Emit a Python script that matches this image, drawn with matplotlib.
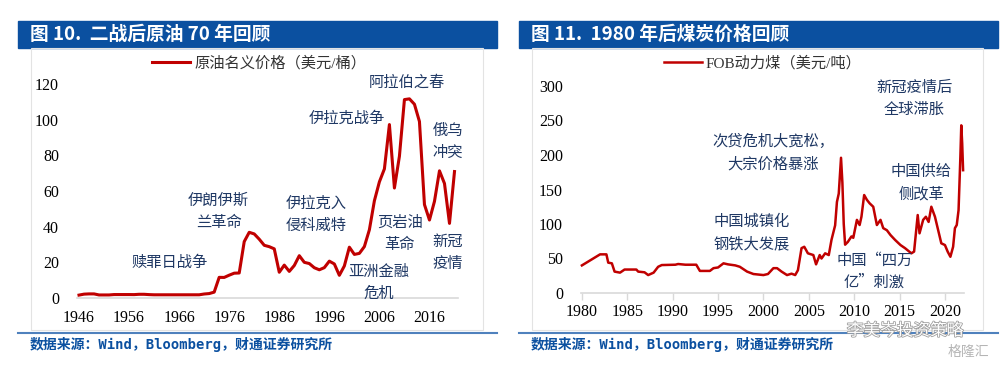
import matplotlib
matplotlib.use('Agg')
import matplotlib.pyplot as plt
import matplotlib.patches as patches
import matplotlib.patheffects as pe

plt.rcParams['font.family'] = ['Liberation Serif', 'Noto Sans CJK SC']

# 原油名义价格（美元/桶）
oil_years = list(range(1946, 2022))
oil_price = [1.63, 2.16, 2.30, 2.30, 1.71, 1.71, 1.71, 1.93, 1.93, 1.93,
             1.93, 1.90, 2.08, 2.08, 1.90, 1.80, 1.80, 1.80, 1.80, 1.80,
             1.80, 1.80, 1.80, 1.80, 1.80, 2.24, 2.48, 3.29, 11.58, 11.53,
             12.80, 13.92, 14.02, 31.61, 36.83, 35.93, 32.97, 29.55, 28.78, 27.56,
             14.43, 18.44, 14.92, 18.23, 23.73, 20.00, 19.32, 16.97, 15.82, 17.02,
             20.67, 19.09, 12.72, 17.97, 28.50, 24.44, 25.02, 28.83, 38.27, 54.52,
             65.14, 72.39, 97.26, 61.67, 79.50, 111.26, 111.67, 108.66, 98.95, 52.39,
             43.73, 54.19, 71.31, 64.21, 41.84, 70.91]
oil_ticks = [1946, 1956, 1966, 1976, 1986, 1996, 2006, 2016]

# FOB动力煤（美元/吨）
coal_year = [1980.0, 1982.0, 1982.7, 1982.9, 1983.3, 1983.6, 1984.2, 1984.7, 1986.0, 1986.2,
             1986.9, 1987.3, 1987.9, 1988.4, 1988.8, 1990.3, 1990.6, 1991.4, 1992.6, 1993.0,
             1994.1, 1994.5, 1995.0, 1995.6, 1996.1, 1996.9, 1997.4, 1998.2, 1998.9, 2000.0,
             2000.5, 2001.1, 2001.5, 2002.0, 2002.6, 2003.1, 2003.5, 2003.8, 2004.2, 2004.5,
             2004.9, 2005.5, 2005.8, 2006.2, 2006.4, 2006.8, 2007.2, 2007.5, 2007.9, 2008.1,
             2008.3, 2008.55, 2008.7, 2008.85, 2009.0, 2009.3, 2009.7, 2009.9, 2010.3, 2010.6,
             2010.8, 2011.1, 2011.4, 2011.7, 2012.1, 2012.5, 2012.9, 2013.2, 2013.6, 2014.0,
             2014.5, 2015.1, 2015.6, 2016.3, 2016.6, 2017.0, 2017.2, 2017.6, 2017.9, 2018.2,
             2018.5, 2018.9, 2019.2, 2019.6, 2020.0, 2020.3, 2020.6, 2020.9, 2021.1, 2021.3,
             2021.5, 2021.7, 2021.8, 2021.9, 2022.0]
coal_price = [40, 56, 56, 44, 43, 31, 29.5, 34, 34, 31,
              30, 26, 29.5, 38, 40.5, 41, 42, 41, 41, 32,
              32, 36, 37, 43, 41.5, 40, 38, 31, 27.5, 26,
              27.5, 36, 36, 31, 26, 28, 26, 33, 65, 67,
              57.5, 55, 41.5, 55, 50, 57.5, 55, 77, 98, 132,
              144, 196, 160, 100, 70, 74, 82, 80, 106, 98.5,
              110.5, 142, 135, 130, 125, 98.5, 106, 94, 91, 84,
              77, 69.5, 65, 57.5, 60, 113, 86.5, 106, 110.5, 103,
              125, 110.5, 94, 72, 69.5, 60, 52.5, 67, 94, 98.5,
              120, 197, 243, 217, 178]
coal_ticks = [1980, 1985, 1990, 1995, 2000, 2005, 2010, 2015, 2020]

oil_notes = [('赎罪日战争', 1964.0, 20.2),
             ('伊朗伊斯\n兰革命', 1973.9, 48.7),
             ('伊拉克入\n侵科威特', 1993.3, 47),
             ('亚洲金融\n危机', 2005.9, 8.7),
             ('页岩油\n革命', 2010.1, 36.4),
             ('伊拉克战争', 1999.5, 100.8),
             ('阿拉伯之春', 2011.5, 121),
             ('俄乌\n冲突', 2019.7, 87.7),
             ('新冠\n疫情', 2019.7, 25.8)]
coal_notes = [('次贷危机大宽松，\n大宗价格暴涨', 2001.06, 203.6),
              ('中国城镇化\n钢铁大发展', 1998.7, 87.7),
              ('中国“四万\n亿”刺激', 2012.2, 31.9),
              ('中国供给\n侧改革', 2017.4, 160),
              ('新冠疫情后\n全球滞胀', 2016.6, 282)]

RED = '#C00000'
NAVY = '#1F3864'
BLUE = '#0B50A0'
W, H = 1002, 365

fig = plt.figure(figsize=(W / 100, H / 100), dpi=100)


def fx(px):
    return px / W


def fy(py):
    return 1 - py / H


def panel(x0, x1, fx0, fx1, title):
    # title bar
    fig.patches.append(patches.Rectangle((fx(x0), fy(48)), fx(x1 - x0), 27 / H,
                                         transform=fig.transFigure, color=BLUE, zorder=0))
    fig.text(fx(x0 + 12), fy(34), title, color='white', fontsize=13.5, fontweight='bold',
             va='center', ha='left', family=['Noto Sans CJK SC'])
    # light frame
    fig.patches.append(patches.Rectangle((fx(fx0), fy(330)), fx(fx1 - fx0), 282 / H,
                                         transform=fig.transFigure, fill=False,
                                         edgecolor='#E3E3E3', lw=0.8, zorder=0))
    # bottom rule + source
    fig.add_artist(plt.Line2D([fx(x0), fx(x1)], [fy(333), fy(333)], color='#4F81BD', lw=1.5))
    fig.text(fx(x0 + 12), fy(344), '数据来源：Wind，Bloomberg，财通证券研究所', color=BLUE,
             fontsize=10, fontweight='bold', va='center', ha='left',
             family=['DejaVu Sans Mono', 'Noto Sans CJK SC'])


def style_axes(ax, ticks, xtick_len, xpad):
    for s in ['top', 'right', 'left']:
        ax.spines[s].set_visible(False)
    ax.spines['bottom'].set_color('#D9D9D9')
    ax.spines['bottom'].set_linewidth(1.2)
    ax.set_xticks(ticks)
    ax.tick_params(axis='x', length=xtick_len, color='#D9D9D9', width=1, pad=xpad, labelsize=11.5)
    ax.tick_params(axis='y', length=0, pad=13, labelsize=11.5)


panel(18, 497, 31, 483, '图 10.  二战后原油 70 年回顾')
panel(519, 998, 532, 983, '图 11.  1980 年后煤炭价格回顾')

# left: oil
ax1 = fig.add_axes([fx(77), fy(298), fx(381), 214 / H])
ax1.plot(oil_years, oil_price, color=RED, lw=2.2, label='原油名义价格（美元/桶）', clip_on=False)
ax1.set_xlim(1945.6, 2021.7)
ax1.set_ylim(0, 120)
ax1.set_yticks(range(0, 121, 20))
style_axes(ax1, oil_ticks, 0, 9)
ax1.legend(loc='center', bbox_to_anchor=(0.479, 1.098), frameon=False, fontsize=11,
           handlelength=2.5, handletextpad=0.3, labelcolor='#333333')
for txt, x, y in oil_notes:
    ax1.text(x, y, txt, color=NAVY, fontsize=11, ha='center', va='center',
             linespacing=1.4, family=['Noto Sans CJK SC'])

# right: coal
ax2 = fig.add_axes([fx(581), fy(293), fx(383), 207 / H])
ax2.plot(coal_year, coal_price, color=RED, lw=1.8, label='FOB动力煤（美元/吨）', clip_on=False)
ax2.set_xlim(1979.9, 2022.1)
ax2.set_ylim(0, 300)
ax2.set_yticks(range(0, 301, 50))
style_axes(ax2, coal_ticks, 5, 3)
ax2.legend(loc='center', bbox_to_anchor=(0.474, 1.111), frameon=False, fontsize=11,
           handlelength=2.5, handletextpad=0.2, labelcolor='#333333')
for txt, x, y in coal_notes:
    ax2.text(x, y, txt, color=NAVY, fontsize=11, ha='center', va='center',
             linespacing=1.4, family=['Noto Sans CJK SC'])

# watermarks
fig.text(fx(905), fy(331), '李美岑投资策略', fontsize=12, color='white', ha='center', va='center',
         family=['Noto Sans CJK SC'],
         path_effects=[pe.withStroke(linewidth=1.2, foreground='#A0A0A0')])
fig.text(fx(968), fy(352), '格隆汇', fontsize=10, color='#B5B5B5', ha='center', va='center',
         family=['Noto Sans CJK SC'])

plt.savefig('out.png', dpi=100)
